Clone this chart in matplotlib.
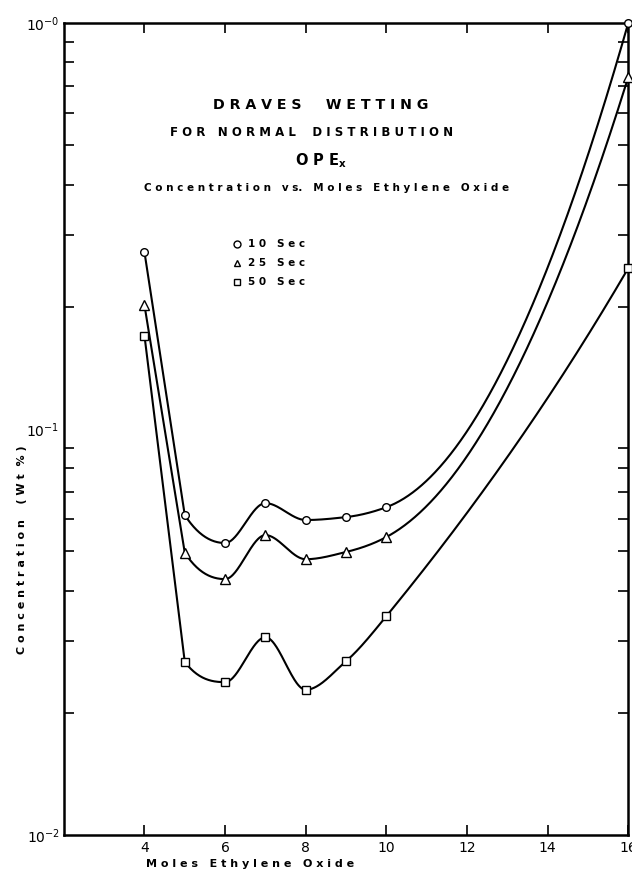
import numpy as np
import matplotlib
matplotlib.use('Agg')
import matplotlib.pyplot as plt
from matplotlib.ticker import LogLocator, NullFormatter, FixedLocator

# data
moles = [4, 5, 6, 7, 8, 9, 10, 16]
sec10 = [0.273, 0.0614, 0.0524, 0.0657, 0.0597, 0.0607, 0.0642, 1.0]
sec25 = [0.202, 0.0496, 0.0427, 0.0548, 0.0478, 0.0498, 0.0542, 0.736]
sec50 = [0.170, 0.0267, 0.0238, 0.0307, 0.0228, 0.0268, 0.0346, 0.249]
xticks = [4, 6, 8, 10, 12, 14, 16]


def pchip(x, y, xn):
    # shape preserving cubic, done in log space for the log axis
    x = np.asarray(x, float)
    y = np.asarray(y, float)
    h = np.diff(x)
    d = np.diff(y) / h
    n = len(x)
    m = np.zeros(n)
    for k in range(1, n - 1):
        if d[k - 1] * d[k] > 0:
            w1 = 2 * h[k] + h[k - 1]
            w2 = h[k] + 2 * h[k - 1]
            m[k] = (w1 + w2) / (w1 / d[k - 1] + w2 / d[k])
    m[0] = ((2 * h[0] + h[1]) * d[0] - h[0] * d[1]) / (h[0] + h[1])
    m[-1] = ((2 * h[-1] + h[-2]) * d[-1] - h[-1] * d[-2]) / (h[-1] + h[-2])
    out = np.empty_like(xn)
    for i, xv in enumerate(xn):
        k = min(np.searchsorted(x, xv, side='right') - 1, n - 2)
        t = (xv - x[k]) / h[k]
        h00 = 2 * t**3 - 3 * t**2 + 1
        h10 = t**3 - 2 * t**2 + t
        h01 = -2 * t**3 + 3 * t**2
        h11 = t**3 - t**2
        out[i] = h00 * y[k] + h10 * h[k] * m[k] + h01 * y[k + 1] + h11 * h[k] * m[k + 1]
    return out


fig = plt.figure(figsize=(6.32, 8.73), dpi=100)
ax = fig.add_axes([0.101, 0.0435, 0.893, 0.930])

for vals, mk, ms in [(sec10, 'o', 5.5), (sec25, '^', 6.5), (sec50, 's', 5.5)]:
    # first leg (4 -> 5) is drawn straight, the rest as a smooth curve
    xs = np.linspace(moles[1], moles[-1], 600)
    ys = 10 ** pchip(moles[1:], np.log10(vals[1:]), xs)
    xs = np.concatenate([[moles[0]], xs])
    ys = np.concatenate([[vals[0]], ys])
    ax.plot(xs, ys, color='black', lw=1.5, clip_on=False)
    ax.plot(moles, vals, mk, ms=ms, mfc='white', mec='black', mew=1.0, ls='none',
            clip_on=False, zorder=5)

ax.set_yscale('log')
ax.set_xlim(2, 16)
ax.set_ylim(0.01, 1.0)

ax.xaxis.set_major_locator(FixedLocator(xticks))
ax.set_xticklabels([str(v) for v in xticks])
ax.yaxis.set_major_locator(FixedLocator([0.01, 0.1, 1.0]))
ax.set_yticklabels([r'$\mathregular{10^{-2}}$', r'$\mathregular{10^{-1}}$', r'$\mathregular{10^{-0}}$'])
ax.yaxis.set_minor_locator(LogLocator(base=10, subs=np.arange(2, 10)))
ax.yaxis.set_minor_formatter(NullFormatter())

ax.tick_params(axis='x', which='major', direction='in', length=7, width=1.2,
               top=True, labelsize=10, pad=4)
ax.tick_params(axis='y', which='major', direction='in', length=0, labelsize=10, pad=3)
ax.tick_params(axis='y', which='minor', direction='in', length=7, width=1.2, right=True)
for sp in ax.spines.values():
    sp.set_linewidth(1.8)

# axis titles placed by hand so they stay inside the picture
fig.text(250 / 632, 1 - 864 / 873, 'M o l e s   E t h y l e n e   O x i d e',
         fontsize=8, fontweight='bold', ha='center', va='center')
fig.text(22 / 632, 1 - 550 / 873, 'C o n c e n t r a t i o n    ( W t  % )',
         fontsize=8, fontweight='bold', ha='center', va='center', rotation=90)

tf = dict(transform=fig.transFigure, ha='center', va='center', fontweight='bold', color='black')
fig.text(321 / 632, 1 - 105 / 873, 'D R A V E S     W E T T I N G', fontsize=10.2, **tf)
fig.text(312 / 632, 1 - 132 / 873, 'F O R   N O R M A L    D I S T R I B U T I O N', fontsize=8.5, **tf)
fig.text(321 / 632, 1 - 161 / 873, r'O P E$\mathregular{_x}$', fontsize=10.5, **tf)
fig.text(327 / 632, 1 - 188 / 873,
         'C o n c e n t r a t i o n   v s.   M o l e s   E t h y l e n e   O x i d e',
         fontsize=7.5, **tf)

# legend drawn by hand
for i, (mk, lab) in enumerate([('o', '1 0   S e c'), ('^', '2 5   S e c'), ('s', '5 0   S e c')]):
    yy = 1 - (244 + 19 * i) / 873
    fig.lines.append(plt.Line2D([237 / 632], [yy], marker=mk, ms=5, mfc='white', mec='black',
                                mew=1.0, ls='none', transform=fig.transFigure))
    fig.text(248 / 632, yy, lab, fontsize=7.5, fontweight='bold', ha='left', va='center',
             transform=fig.transFigure)

fig.savefig('out.png', dpi=100)
